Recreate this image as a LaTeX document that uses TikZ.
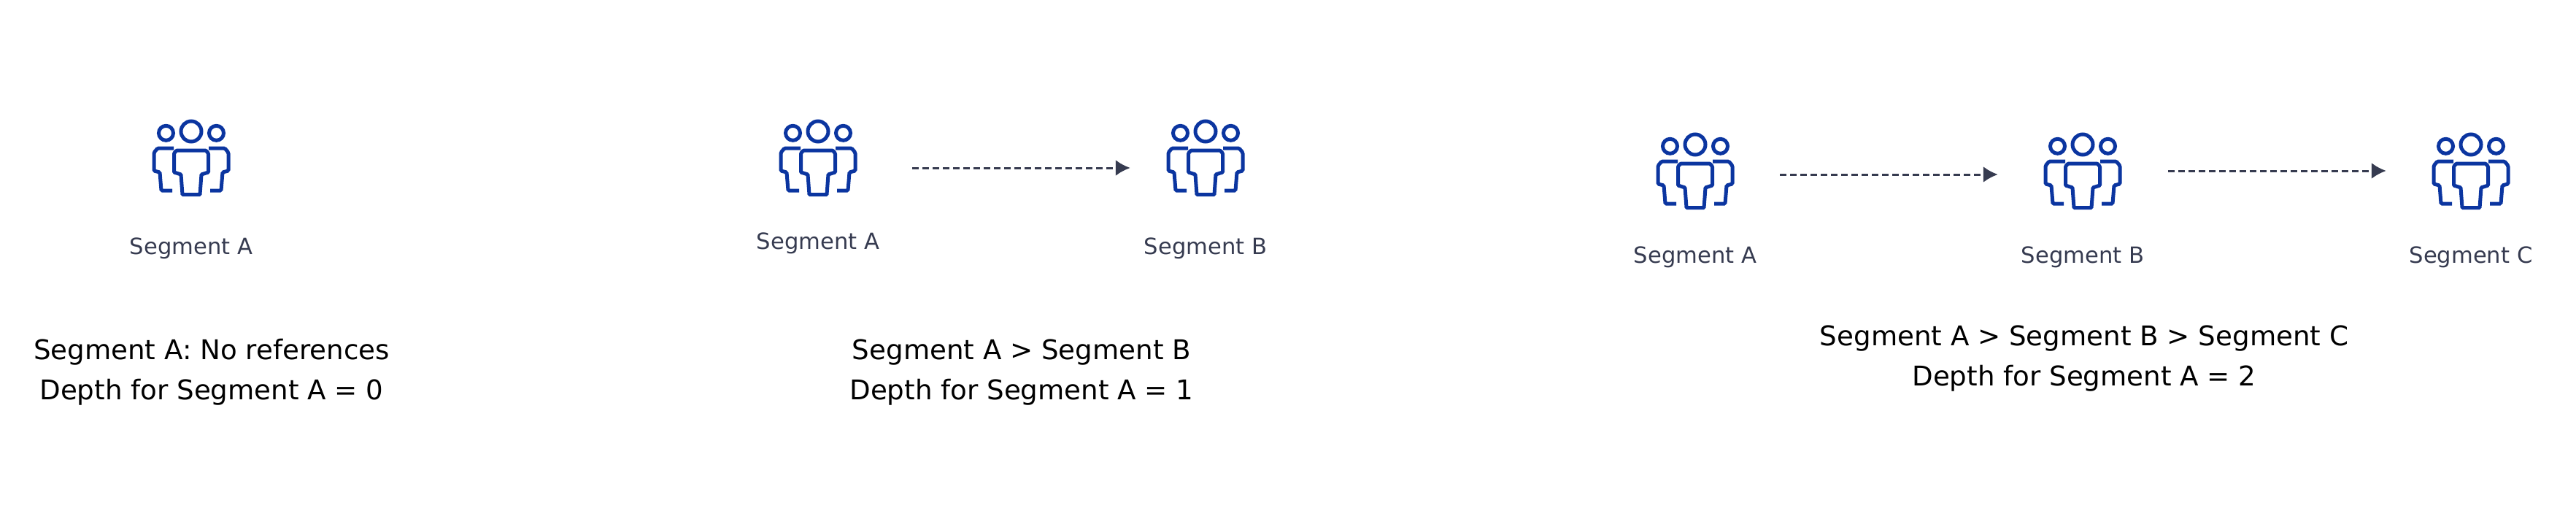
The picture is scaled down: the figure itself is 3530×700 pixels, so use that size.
\documentclass[tikz,border=0pt]{standalone}
\usepackage{fontspec}
\setmainfont{DejaVu Sans}
\usepackage{tikz}
\usetikzlibrary{arrows.meta}

\definecolor{iconblue}{HTML}{0B35A0}
\definecolor{slate}{HTML}{363B50}

\tikzset{
  people/.pic={
    \draw[iconblue,line width=5bp] (0bp,36bp) circle (14bp);
    \draw[iconblue,line width=5bp] (-34.5bp,33.7bp) circle (10bp);
    \draw[iconblue,line width=5bp] (34.5bp,33.7bp) circle (10bp);
    \draw[iconblue,line width=5bp,rounded corners=1bp]
      (-20bp,10bp) -- (20bp,10bp) -- (23.5bp,6bp) -- (23.5bp,-20bp) -- (14bp,-23bp)
      -- (12bp,-50.5bp) -- (-12bp,-50.5bp) -- (-14bp,-23bp) -- (-23.5bp,-20bp) -- (-23.5bp,6bp) -- cycle;
    \draw[iconblue,line width=5bp,rounded corners=1.5bp]
      (-24bp,13bp) -- (-46bp,13bp) -- (-51bp,7bp) -- (-51bp,-18bp) -- (-43bp,-20bp) -- (-41bp,-45bp) -- (-26bp,-45bp);
    \draw[iconblue,line width=5bp,rounded corners=1.5bp]
      (24bp,13bp) -- (46bp,13bp) -- (51bp,7bp) -- (51bp,-18bp) -- (43bp,-20bp) -- (41bp,-45bp) -- (26bp,-45bp);
  },
  icon/.style={minimum width=106bp,minimum height=106bp,inner sep=0pt},
  seglabel/.style={text=slate,font=\fontsize{30.6bp}{36bp}\selectfont},
  caption/.style={text=black,align=center,font=\fontsize{37.2bp}{55bp}\selectfont},
  flow/.style={-{Latex[length=20bp,width=22bp]},slate,line width=3bp,dash pattern=on 9bp off 5bp},
}

\begin{document}
\begin{tikzpicture}

\useasboundingbox (0bp,0bp) rectangle (3530bp,-700bp);

% no references
\node (I1a) at (262bp,-216bp)[icon] {};
\pic at (I1a) {people};
\node (L1a) at (262bp,-340bp)[seglabel] {Segment A};
\node (C1) at (290bp,-510bp)[caption] {Segment A: No references\\Depth for Segment A = 0};

% one reference
\node (I2a) at (1121bp,-216bp)[icon] {};
\node (I2b) at (1652bp,-216bp)[icon] {};
\pic at (I2a) {people};
\pic at (I2b) {people};
\node (L2a) at (1121bp,-333bp)[seglabel] {Segment A};
\node (L2b) at (1652bp,-340bp)[seglabel] {Segment B};
\draw [flow,shorten <=76bp,shorten >=50bp] ([yshift=-14bp]I2a.east) to ([yshift=-14bp]I2b.west);
\node (C2) at (1400bp,-510bp)[caption] {Segment A > Segment B\\Depth for Segment A = 1};

% two references
\node (I3a) at (2323bp,-234bp)[icon] {};
\node (I3b) at (2854bp,-234bp)[icon] {};
\node (I3c) at (3386bp,-234bp)[icon] {};
\pic at (I3a) {people};
\pic at (I3b) {people};
\pic at (I3c) {people};
\node (L3a) at (2323bp,-352bp)[seglabel] {Segment A};
\node (L3b) at (2854bp,-352bp)[seglabel] {Segment B};
\node (L3c) at (3386bp,-352bp)[seglabel] {Segment C};
\draw [flow,shorten <=63bp,shorten >=63bp] ([yshift=-5bp]I3a.east) to ([yshift=-5bp]I3b.west);
\draw [flow,shorten <=64bp,shorten >=63bp] (I3b.east) to (I3c.west);
\node (C3) at (2856bp,-491bp)[caption] {Segment A > Segment B > Segment C\\Depth for Segment A = 2};

\end{tikzpicture}
\end{document}
